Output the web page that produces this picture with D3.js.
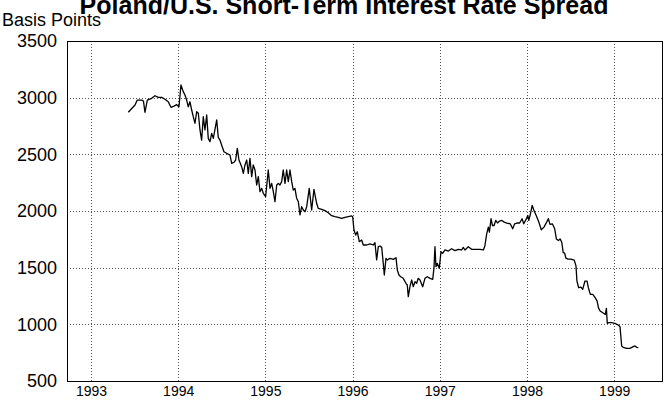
<!DOCTYPE html>
<html>
<head>
<meta charset="utf-8">
<script src="https://cdn.jsdelivr.net/npm/d3@7"></script>
<style>
  body { margin: 0; background: #fff; }
  svg text { font-family: "Liberation Sans", Arial, Helvetica, sans-serif; fill: #000; }
</style>
</head>
<body>
<svg id="chart"></svg>
<script>
const width = 666;
const height = 405;

// weekly observations, decimal year
const dates = [
  1993.428, 1993.505, 1993.531, 1993.581, 1993.602, 1993.619, 1993.646, 1993.696, 1993.734, 1993.772,
  1993.811, 1993.849, 1993.886, 1993.917, 1993.952, 1993.983, 1994.009, 1994.032, 1994.058, 1994.078,
  1994.097, 1994.116, 1994.135, 1994.155, 1994.173, 1994.193, 1994.212, 1994.231, 1994.250, 1994.269,
  1994.288, 1994.307, 1994.327, 1994.345, 1994.365, 1994.384, 1994.403, 1994.442, 1994.460, 1994.479,
  1994.506, 1994.525, 1994.556, 1994.594, 1994.614, 1994.640, 1994.659, 1994.678, 1994.697, 1994.728,
  1994.747, 1994.766, 1994.786, 1994.804, 1994.823, 1994.843, 1994.861, 1994.881, 1994.900, 1994.919,
  1994.938, 1994.958, 1994.976, 1995.003, 1995.022, 1995.033, 1995.053, 1995.072, 1995.091, 1995.110,
  1995.130, 1995.148, 1995.167, 1995.187, 1995.205, 1995.225, 1995.244, 1995.263, 1995.282, 1995.302,
  1995.320, 1995.339, 1995.359, 1995.378, 1995.397, 1995.416, 1995.435, 1995.454, 1995.474, 1995.503,
  1995.531, 1995.557, 1995.588, 1995.606, 1995.646, 1995.683, 1995.721, 1995.760, 1995.798, 1995.836,
  1995.875, 1995.913, 1995.951, 1995.990, 1996.001, 1996.016, 1996.036, 1996.054, 1996.077, 1996.104,
  1996.123, 1996.162, 1996.200, 1996.237, 1996.257, 1996.276, 1996.295, 1996.314, 1996.334, 1996.352,
  1996.364, 1996.383, 1996.398, 1996.429, 1996.467, 1996.498, 1996.513, 1996.532, 1996.552, 1996.581,
  1996.612, 1996.627, 1996.639, 1996.658, 1996.678, 1996.696, 1996.716, 1996.735, 1996.753, 1996.773,
  1996.804, 1996.830, 1996.857, 1996.888, 1996.919, 1996.933, 1996.945, 1996.956, 1996.971, 1996.994,
  1997.014, 1997.033, 1997.060, 1997.098, 1997.136, 1997.174, 1997.212, 1997.251, 1997.269, 1997.289,
  1997.327, 1997.366, 1997.404, 1997.461, 1997.500, 1997.518, 1997.538, 1997.557, 1997.569, 1997.588,
  1997.604, 1997.623, 1997.642, 1997.662, 1997.685, 1997.712, 1997.739, 1997.769, 1997.808, 1997.836,
  1997.859, 1997.885, 1997.916, 1997.944, 1997.963, 1997.990, 1998.009, 1998.021, 1998.040, 1998.060,
  1998.079, 1998.106, 1998.136, 1998.164, 1998.195, 1998.226, 1998.245, 1998.264, 1998.291, 1998.318,
  1998.337, 1998.361, 1998.380, 1998.399, 1998.415, 1998.433, 1998.446, 1998.472, 1998.503, 1998.542,
  1998.562, 1998.573, 1998.593, 1998.619, 1998.639, 1998.665, 1998.689, 1998.704, 1998.727, 1998.755,
  1998.782, 1998.805, 1998.820, 1998.839, 1998.870, 1998.898, 1998.911, 1998.921, 1998.940, 1998.971,
  1999.009, 1999.047, 1999.067, 1999.086, 1999.104, 1999.143, 1999.181, 1999.219, 1999.239, 1999.258,
  1999.277
];

// spread in basis points
const spread = [
  2871, 2935, 2979, 2979, 2970, 2871, 2979, 2994, 3017, 3003,
  3003, 2986, 2964, 2915, 2926, 2938, 2920, 3112, 3053, 3024,
  2979, 2920, 2964, 2891, 2832, 2774, 2876, 2862, 2715, 2626,
  2832, 2715, 2847, 2641, 2612, 2685, 2641, 2803, 2650, 2626,
  2565, 2523, 2509, 2494, 2421, 2430, 2450, 2553, 2450, 2391,
  2332, 2406, 2450, 2332, 2465, 2303, 2406, 2362, 2229, 2303,
  2171, 2200, 2156, 2127, 2274, 2362, 2200, 2244, 2171, 2082,
  2229, 2244, 2229, 2259, 2362, 2244, 2362, 2259, 2362, 2259,
  2185, 2200, 2112, 2082, 1965, 2038, 2009, 1994, 2038, 2200,
  2009, 2191, 2068, 2024, 2015, 2003, 1985, 1959, 1950, 1944,
  1935, 1944, 1950, 1956, 1950, 1832, 1788, 1817, 1729, 1744,
  1700, 1700, 1709, 1700, 1720, 1568, 1685, 1691, 1679, 1538,
  1435, 1582, 1568, 1582, 1573, 1588, 1479, 1435, 1420, 1406,
  1362, 1347, 1244, 1332, 1391, 1332, 1376, 1362, 1406, 1391,
  1332, 1406, 1420, 1406, 1397, 1494, 1685, 1509, 1538, 1494,
  1641, 1626, 1656, 1647, 1667, 1650, 1662, 1656, 1679, 1656,
  1685, 1662, 1662, 1662, 1656, 1694, 1798, 1858, 1813, 1932,
  1872, 1872, 1917, 1894, 1911, 1917, 1902, 1894, 1887, 1843,
  1887, 1894, 1894, 1932, 1887, 1926, 1961, 1917, 1976, 2050,
  2006, 1961, 1902, 1834, 1858, 1902, 1932, 1882, 1887, 1843,
  1754, 1739, 1754, 1724, 1635, 1626, 1585, 1576, 1576, 1567,
  1516, 1382, 1323, 1329, 1308, 1382, 1382, 1323, 1264, 1264,
  1235, 1205, 1145, 1117, 1102, 1087, 1141, 1009, 1015, 1015,
  1009, 994, 979, 809, 797, 788, 788, 803, 809, 797,
  794
];

const yearTicks = [1993, 1994, 1995, 1996, 1997, 1998, 1999];
const valueTicks = [500, 1000, 1500, 2000, 2500, 3000, 3500];

const margin = { top: 41, right: 3, bottom: 24, left: 67 };

const svg = d3.select("#chart")
    .attr("width", width)
    .attr("height", height);

const x = d3.scaleLinear()
    .domain([1992.725, 1999.56])
    .range([margin.left, width - margin.right]);

const y = d3.scaleLinear()
    .domain([500, 3500])
    .range([height - margin.bottom, margin.top]);

// grid
svg.append("g")
    .selectAll("line")
    .data(yearTicks)
    .join("line")
    .attr("x1", d => Math.round(x(d)) + 0.5)
    .attr("x2", d => Math.round(x(d)) + 0.5)
    .attr("y1", y(3500))
    .attr("y2", y(500))
    .attr("stroke", "#555")
    .attr("stroke-dasharray", "1,2");

svg.append("g")
    .selectAll("line")
    .data(valueTicks.slice(1, -1))
    .join("line")
    .attr("x1", x.range()[0])
    .attr("x2", x.range()[1])
    .attr("y1", d => Math.round(y(d)) + 0.5)
    .attr("y2", d => Math.round(y(d)) + 0.5)
    .attr("stroke", "#555")
    .attr("stroke-dasharray", "1,2");

// axes (labels only, frame drawn separately)
const xAxis = svg.append("g")
    .attr("transform", `translate(0,${y(500)})`)
    .call(d3.axisBottom(x).tickValues(yearTicks).tickFormat(d3.format("d")).tickSize(0).tickPadding(5));
xAxis.select(".domain").remove();
xAxis.selectAll("text").style("font-size", "14px");

const yAxis = svg.append("g")
    .attr("transform", `translate(${x.range()[0]},0)`)
    .call(d3.axisLeft(y).tickValues(valueTicks).tickFormat(d3.format("d")).tickSize(0).tickPadding(10));
yAxis.select(".domain").remove();
yAxis.selectAll("text").style("font-size", "18px");

// series
const line = d3.line()
    .x((d, i) => x(dates[i]))
    .y(d => y(d));

svg.append("path")
    .datum(spread)
    .attr("fill", "none")
    .attr("stroke", "#000")
    .attr("stroke-width", 1.3)
    .attr("stroke-linejoin", "round")
    .attr("d", line);

// frame
svg.append("rect")
    .attr("x", x.range()[0] + 0.5)
    .attr("y", y(3500) + 0.5)
    .attr("width", x.range()[1] - x.range()[0] - 1)
    .attr("height", y(500) - y(3500))
    .attr("fill", "none")
    .attr("stroke", "#000")
    .attr("stroke-width", 1);

// titles (the source image crops the top of the title)
svg.append("text")
    .attr("x", 344)
    .attr("y", 14)
    .attr("text-anchor", "middle")
    .style("font-size", "25px")
    .style("font-weight", "bold")
    .text("Poland/U.S. Short-Term Interest Rate Spread");

svg.append("text")
    .attr("x", 2)
    .attr("y", 26)
    .style("font-size", "18px")
    .text("Basis Points");
</script>
</body>
</html>
